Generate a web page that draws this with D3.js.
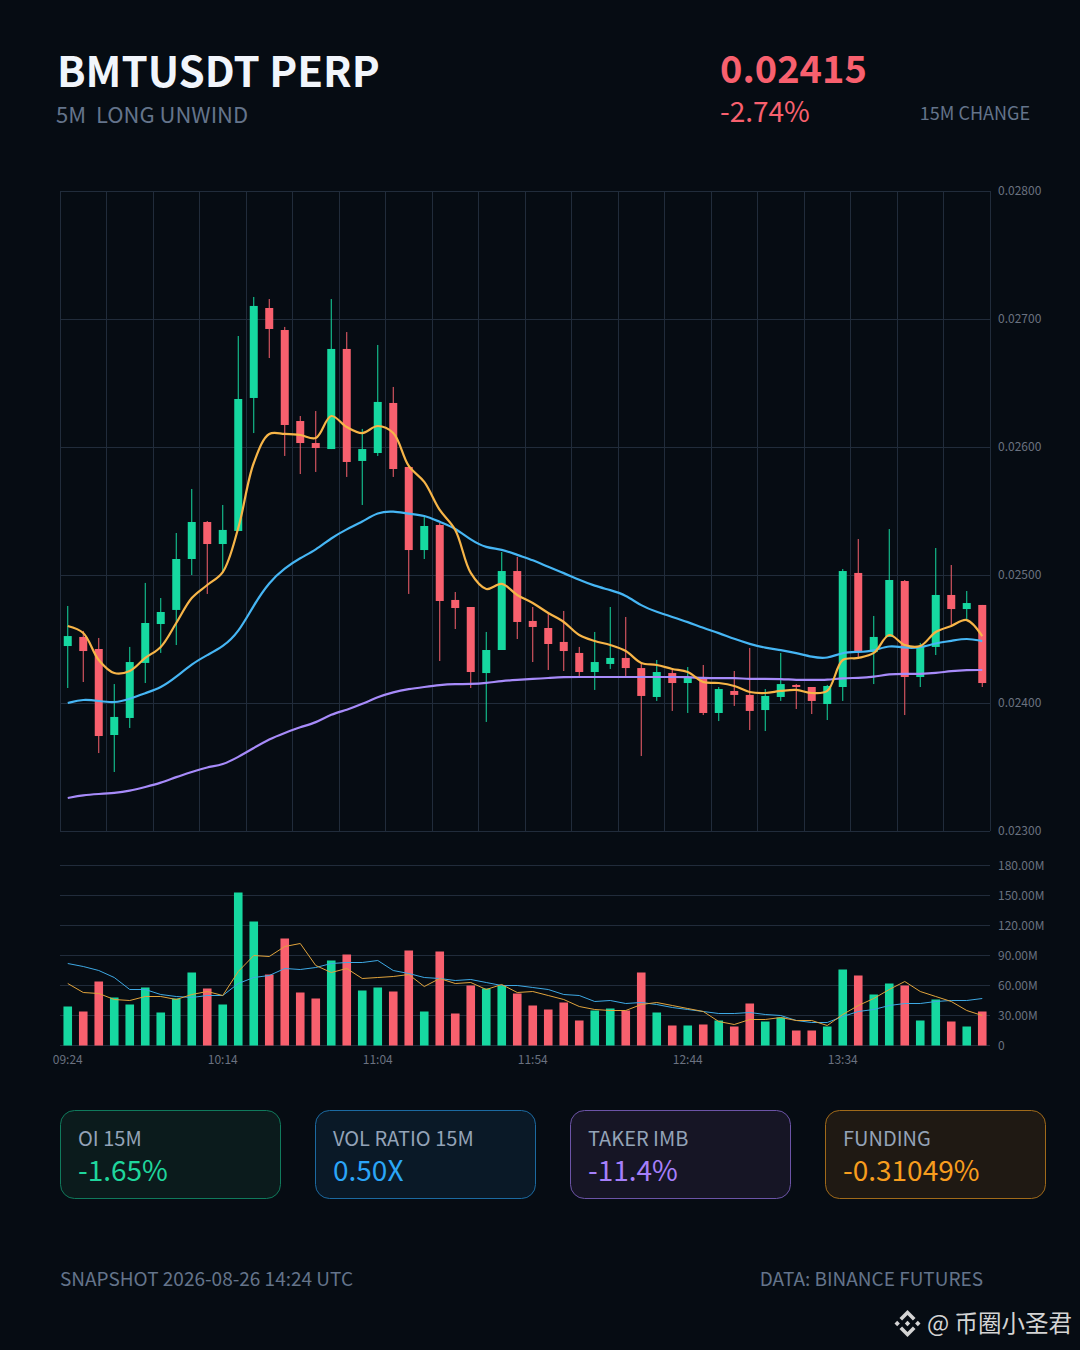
<!DOCTYPE html>
<html>
<head>
<meta charset="utf-8">
<script src="https://cdn.jsdelivr.net/npm/d3@7"></script>
<style>
  html, body { margin: 0; padding: 0; background: #060c13; }
  svg { display: block; }
  text { font-family: "Noto Sans CJK SC", "Noto Sans", sans-serif; }
</style>
</head>
<body>
<div id="chart"></div>
<script>
// 5 minute candles, 09:24 to 14:19
var times = ["09:24","09:29","09:34","09:39","09:44","09:49","09:54","09:59","10:04","10:09",
  "10:14","10:19","10:24","10:29","10:34","10:39","10:44","10:49","10:54","10:59",
  "11:04","11:09","11:14","11:19","11:24","11:29","11:34","11:39","11:44","11:49",
  "11:54","11:59","12:04","12:09","12:14","12:19","12:24","12:29","12:34","12:39",
  "12:44","12:49","12:54","12:59","13:04","13:09","13:14","13:19","13:24","13:29",
  "13:34","13:39","13:44","13:49","13:54","13:59","14:04","14:09","14:14","14:19"];
var opens = [.024445,.024516,.024422,.023750,.023883,.024313,.024617,.024727,.025125,.025414,
  .025242,.025344,.026383,.027086,.026914,.026203,.026031,.025984,.026766,.025891,
  .025953,.026344,.025844,.025195,.025391,.024805,.024750,.024234,.024414,.025031,
  .024641,.024586,.024477,.024391,.024242,.024305,.024352,.024273,.024047,.024234,
  .024156,.024188,.023922,.024094,.024063,.023945,.024047,.024141,.024125,.023992,
  .024125,.025016,.024398,.024516,.024953,.024203,.024438,.024844,.024734,.024766];
var highs = [.024758,.024563,.024508,.024148,.024438,.024938,.024820,.025328,.025672,.025422,
  .025547,.026867,.027172,.027156,.026938,.026242,.026281,.027156,.026898,.026141,
  .026797,.026469,.025844,.025461,.025406,.024867,.024750,.024555,.025180,.025141,
  .024750,.024703,.024719,.024438,.024555,.024750,.024672,.024305,.024336,.024258,
  .024281,.024297,.024125,.024250,.024430,.024109,.024391,.024148,.024125,.024141,
  .025047,.025281,.024680,.025359,.024961,.024469,.025211,.025078,.024875,.024766];
var lows = [.024117,.024164,.023609,.023461,.023805,.024156,.024391,.024453,.025000,.024852,
  .025023,.025344,.026109,.026695,.025930,.025789,.025805,.025984,.025766,.025547,
  .025930,.025766,.024852,.025125,.024328,.024578,.024117,.023852,.024414,.024500,
  .024320,.024258,.024250,.024203,.024102,.024266,.024211,.023586,.024016,.023938,
  .023922,.023906,.023859,.023977,.023789,.023781,.024016,.023953,.023914,.023867,
  .024016,.024352,.024148,.024516,.023906,.024125,.024375,.024609,.024648,.024125];
var closes = [.024523,.024406,.023742,.023891,.024320,.024625,.024711,.025125,.025414,.025242,
  .025352,.026375,.027102,.026922,.026172,.026031,.025992,.026766,.025883,.025984,
  .026352,.025828,.025195,.025383,.024797,.024742,.024242,.024414,.025031,.024633,
  .024594,.024461,.024406,.024242,.024320,.024352,.024273,.024055,.024242,.024156,
  .024203,.023922,.024109,.024063,.023938,.024055,.024148,.024125,.024016,.024133,
  .025031,.024398,.024516,.024961,.024203,.024438,.024844,.024734,.024781,.024156];

var maFast = [.024602,.024547,.024336,.024234,.024250,.024352,.024438,.024625,.024820,.024922,
  .025023,.025367,.025875,.026102,.026102,.026094,.026070,.026242,.026156,.026109,
  .026164,.026109,.025852,.025727,.025508,.025352,.025016,.024891,.024930,.024844,
  .024781,.024703,.024633,.024531,.024484,.024453,.024406,.024313,.024297,.024266,
  .024242,.024164,.024156,.024133,.024086,.024078,.024094,.024102,.024078,.024094,
  .024336,.024352,.024391,.024531,.024453,.024445,.024555,.024602,.024648,.024523];
var maMid = [.024000,.024031,.024016,.024000,.024031,.024078,.024117,.024203,.024305,.024375,
  .024438,.024547,.024766,.024945,.025055,.025133,.025195,.025289,.025359,.025414,
  .025492,.025500,.025477,.025469,.025414,.025367,.025273,.025211,.025203,.025156,
  .025117,.025063,.025016,.024961,.024914,.024883,.024844,.024758,.024711,.024672,
  .024633,.024586,.024547,.024500,.024461,.024430,.024414,.024391,.024359,.024344,
  .024398,.024398,.024406,.024453,.024430,.024430,.024469,.024484,.024508,.024484];
var maSlow = [.023258,.023281,.023289,.023297,.023313,.023344,.023375,.023422,.023461,.023500,
  .023516,.023578,.023648,.023719,.023766,.023813,.023844,.023914,.023945,.023992,
  .024047,.024086,.024109,.024125,.024141,.024148,.024148,.024156,.024172,.024180,
  .024188,.024195,.024203,.024203,.024203,.024203,.024203,.024203,.024203,.024203,
  .024203,.024195,.024195,.024195,.024188,.024188,.024188,.024180,.024180,.024180,
  .024195,.024195,.024203,.024227,.024227,.024227,.024234,.024250,.024258,.024258];

// quote volume in millions
var volumes = [39,34,64,48,41,58,33,47,73,57,41,153,124,71,107,53,47,85,91,55,
  58,54,95,34,94,32,60,57,60,52,40,36,43,25,35,37,35,73,33,20,
  20,21,25,19,42,24,28,15,15,19,76,70,51,62,60,25,46,24,19,34];
var volMaFast = [62,53,52,46,45,49,49,46,51,54,50,74,90,89,99,102,80,73,77,67,
  68,69,71,59,67,62,63,56,61,53,54,50,46,39,36,35,35,41,43,40,
  37,34,24,21,26,26,28,25,25,20,31,40,47,56,64,54,49,44,35,30];
var volMaSlow = [82,79,75,68,56,56,51,49,48,50,50,62,68,70,77,76,78,82,83,83,
  85,75,72,68,67,65,66,63,60,60,58,56,51,50,44,45,42,43,41,38,
  36,34,32,32,33,31,30,25,23,23,29,34,36,40,42,42,44,45,45,47];

var priceTicks = [0.023, 0.024, 0.025, 0.026, 0.027, 0.028];
var volumeTicks = [0, 30, 60, 90, 120, 150, 180];
var timeTicks = ["09:24", "10:14", "11:04", "11:54", "12:44", "13:34"];

var cardTitles = ["OI 15M", "VOL RATIO 15M", "TAKER IMB", "FUNDING"];
var cardValues = ["-1.65%", "0.50X", "-11.4%", "-0.31049%"];
var cardColors = ["#1fd69c", "#2ba5f7", "#a57ffa", "#f79d1e"];
var cardFills = ["#0b1b1c", "#0a1927", "#161525", "#1f1913"];
var cardStrokes = ["#107a5c", "#1c6aa1", "#6c54a7", "#a06a1a"];

var BG_COLOR = "#060c13";
var GRID_COLOR = "#212c3b";
var UP_COLOR = "#16d8a0";
var DOWN_COLOR = "#f8606e";
var TICK_COLOR = "#6a7280";
var MUTED_COLOR = "#64748b";

var width = 1080, height = 1350;
var left = 60, right = 990;
var priceTop = 191, priceBottom = 831;
var volTop = 865.5, volBottom = 1045.5;

var svg = d3.select("#chart").append("svg")
  .attr("width", width)
  .attr("height", height);

svg.append("rect")
  .attr("width", width)
  .attr("height", height)
  .attr("fill", BG_COLOR);

var x = d3.scaleBand().domain(times).range([left, right]);
var y = d3.scaleLinear().domain([0.023, 0.028]).range([priceBottom, priceTop]);
var yVol = d3.scaleLinear().domain([0, 180]).range([volBottom, volTop]);

function center(i) { return x(times[i]) + x.bandwidth() / 2; }

// header
svg.append("text").attr("x", 57).attr("y", 87)
  .attr("font-size", 42).attr("font-weight", 700).attr("fill", "#f1f5fb")
  .text("BMTUSDT PERP");
svg.append("text").attr("x", 56).attr("y", 123)
  .attr("font-size", 22).attr("fill", MUTED_COLOR)
  .attr("xml:space", "preserve").style("white-space", "pre")
  .text("5M  LONG UNWIND");
svg.append("text").attr("x", 720).attr("y", 83)
  .attr("font-size", 38).attr("font-weight", 700).attr("fill", DOWN_COLOR)
  .text("0.02415");
svg.append("text").attr("x", 720).attr("y", 122)
  .attr("font-size", 28).attr("fill", DOWN_COLOR)
  .text("-2.74%");
svg.append("text").attr("x", 1030).attr("y", 120).attr("text-anchor", "end")
  .attr("font-size", 18).attr("fill", MUTED_COLOR)
  .text("15M CHANGE");

// price grid
var grid = svg.append("g").attr("stroke", GRID_COLOR).attr("shape-rendering", "crispEdges");
grid.selectAll(".h")
  .data(priceTicks)
  .enter().append("line")
  .attr("x1", left).attr("x2", right)
  .attr("y1", function(d) { return y(d); })
  .attr("y2", function(d) { return y(d); });
grid.selectAll(".v")
  .data(times.filter(function(d, i) { return i % 3 === 0; }))
  .enter().append("line")
  .attr("x1", function(d) { return x(d); })
  .attr("x2", function(d) { return x(d); })
  .attr("y1", priceTop).attr("y2", priceBottom);
grid.append("line").attr("x1", right).attr("x2", right).attr("y1", priceTop).attr("y2", priceBottom);

// volume grid
svg.append("g").attr("stroke", GRID_COLOR).attr("shape-rendering", "crispEdges")
  .selectAll("line")
  .data(volumeTicks)
  .enter().append("line")
  .attr("x1", left).attr("x2", right)
  .attr("y1", function(d) { return yVol(d); })
  .attr("y2", function(d) { return yVol(d); });

// axes, labels only
var priceAxis = d3.axisRight(y).tickValues(priceTicks).tickSize(0).tickPadding(8)
  .tickFormat(d3.format(".5f"));
var volAxis = d3.axisRight(yVol).tickValues(volumeTicks).tickSize(0).tickPadding(8)
  .tickFormat(function(d) { return d === 0 ? "0" : d.toFixed(2) + "M"; });
var timeAxis = d3.axisBottom(x).tickValues(timeTicks).tickSize(0).tickPadding(10);

[svg.append("g").attr("transform", "translate(" + right + ",0)").call(priceAxis),
 svg.append("g").attr("transform", "translate(" + right + ",0)").call(volAxis),
 svg.append("g").attr("transform", "translate(0," + volBottom + ")").call(timeAxis)
].forEach(function(g) {
  g.select(".domain").remove();
  g.selectAll("text")
    .attr("fill", TICK_COLOR)
    .attr("font-size", 12)
    .style("font-family", '"Noto Sans CJK SC", sans-serif');
});

// candles
var candleW = 8;
var candle = svg.append("g").selectAll("g")
  .data(times)
  .enter().append("g")
  .attr("fill", function(d, i) { return closes[i] < opens[i] ? DOWN_COLOR : UP_COLOR; })
  .attr("stroke", function(d, i) { return closes[i] < opens[i] ? DOWN_COLOR : UP_COLOR; });

candle.append("line")
  .attr("x1", function(d, i) { return center(i); })
  .attr("x2", function(d, i) { return center(i); })
  .attr("y1", function(d, i) { return y(highs[i]); })
  .attr("y2", function(d, i) { return y(lows[i]); })
  .attr("stroke-width", 1);

candle.append("rect")
  .attr("stroke", "none")
  .attr("x", function(d, i) { return center(i) - candleW / 2; })
  .attr("width", candleW)
  .attr("y", function(d, i) { return y(Math.max(opens[i], closes[i])); })
  .attr("height", function(d, i) { return Math.max(1, Math.abs(y(opens[i]) - y(closes[i]))); });

// moving averages on the candles
function maPath(values, curve) {
  return d3.line()
    .x(function(d, i) { return center(i); })
    .y(function(d) { return y(d); })
    .curve(curve)(values);
}

svg.append("path").attr("d", maPath(maSlow, d3.curveBasis)).attr("fill", "none").attr("stroke", "#a78bfa").attr("stroke-width", 2.2);
svg.append("path").attr("d", maPath(maMid, d3.curveBasis)).attr("fill", "none").attr("stroke", "#46b6f4").attr("stroke-width", 2.2);
svg.append("path").attr("d", maPath(maFast, d3.curveCatmullRom.alpha(0.5))).attr("fill", "none").attr("stroke", "#f7b548").attr("stroke-width", 2.2);

// volume bars
var barW = 8.6;
svg.append("g").selectAll("rect")
  .data(volumes)
  .enter().append("rect")
  .attr("x", function(d, i) { return center(i) - barW / 2; })
  .attr("width", barW)
  .attr("y", function(d) { return yVol(d); })
  .attr("height", function(d) { return yVol(0) - yVol(d); })
  .attr("fill", function(d, i) { return closes[i] < opens[i] ? DOWN_COLOR : UP_COLOR; });

var volLine = d3.line()
  .x(function(d, i) { return center(i); })
  .y(function(d) { return yVol(d); });

svg.append("path").attr("d", volLine(volMaSlow)).attr("fill", "none").attr("stroke", "#3ea9e4").attr("stroke-width", 1);
svg.append("path").attr("d", volLine(volMaFast)).attr("fill", "none").attr("stroke", "#e0a33c").attr("stroke-width", 1);

// stat cards
var card = svg.append("g").selectAll("g")
  .data(cardTitles)
  .enter().append("g")
  .attr("transform", function(d, i) { return "translate(" + (60.5 + 255 * i) + ",1110.5)"; });

card.append("rect")
  .attr("width", 220).attr("height", 88).attr("rx", 14)
  .attr("fill", function(d, i) { return cardFills[i]; })
  .attr("stroke", function(d, i) { return cardStrokes[i]; });

card.append("text").attr("x", 17.5).attr("y", 35)
  .attr("font-size", 20).attr("fill", "#94a3b8")
  .text(function(d) { return d; });

card.append("text").attr("x", 17.5).attr("y", 70.5)
  .attr("font-size", 28)
  .attr("fill", function(d, i) { return cardColors[i]; })
  .text(function(d, i) { return cardValues[i]; });

// footer
svg.append("text").attr("x", 60).attr("y", 1286)
  .attr("font-size", 19).attr("fill", MUTED_COLOR)
  .text("SNAPSHOT 2026-08-26 14:24 UTC");
svg.append("text").attr("x", 983).attr("y", 1286).attr("text-anchor", "end")
  .attr("font-size", 19).attr("fill", MUTED_COLOR)
  .text("DATA: BINANCE FUTURES");

// watermark
var logo = svg.append("g").attr("transform", "translate(907.5,1323.5)").attr("fill", "#d4d4d4");
logo.append("path").attr("d", "M0,-13.5L8,-5.5L5.4,-3L0,-8.4L-5.4,-3L-8,-5.5Z");
logo.append("path").attr("d", "M0,13.5L8,5.5L5.4,3L0,8.4L-5.4,3L-8,5.5Z");
logo.append("path").attr("d", "M0,-2.7L2.7,0L0,2.7L-2.7,0Z");
logo.append("path").attr("d", "M-10.3,-2.7L-7.6,0L-10.3,2.7L-13,0Z");
logo.append("path").attr("d", "M10.3,-2.7L13,0L10.3,2.7L7.6,0Z");
svg.append("text").attr("x", 927).attr("y", 1332)
  .attr("font-size", 23.5).attr("fill", "#d4d4d4")
  .text("@ 币圈小圣君");
</script>
</body>
</html>
